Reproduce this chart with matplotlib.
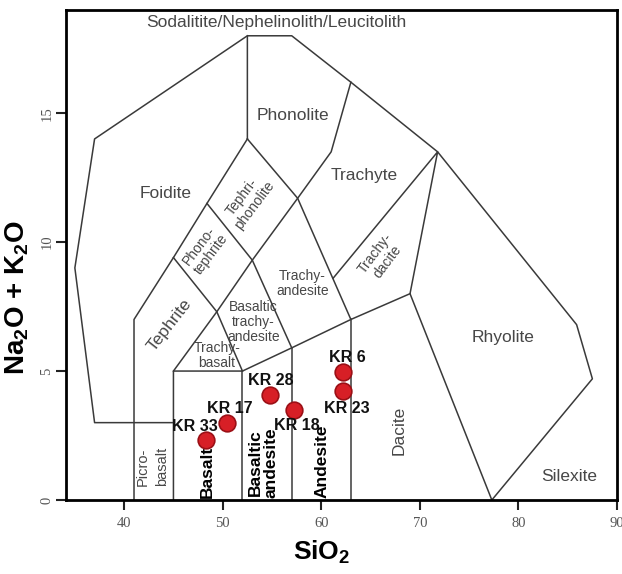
import matplotlib
matplotlib.use("Agg")
import matplotlib.pyplot as plt

plt.rcParams['font.family'] = ['Liberation Sans', 'DejaVu Sans']

# samples: SiO2 vs total alkali (wt%)
samples = ["KR 33", "KR 17", "KR 28", "KR 18", "KR 6", "KR 23"]
sio2 = [48.3, 50.4, 54.8, 57.2, 62.2, 62.2]
alkali = [2.33, 3.0, 4.07, 3.5, 4.96, 4.24]

# TAS field boundaries (SiO2, Na2O+K2O)
outline = [(52.5, 14), (52.5, 18), (57, 18), (63, 16.2), (71.8, 13.5),
           (85.9, 6.8), (87.5, 4.7), (77.3, 0)]
foidite_edge = [(52.5, 18), (37, 14), (35, 9), (37, 3), (45, 3)]
inner_lines = [
    [(41, 0), (41, 7), (45, 9.4), (48.4, 11.5), (52.5, 14)],
    [(45, 0), (45, 5), (52, 5), (57, 5.9), (63, 7), (69, 8)],
    [(52, 0), (52, 5)],
    [(57, 0), (57, 5.9)],
    [(63, 0), (63, 7)],
    [(45, 5), (49.4, 7.3), (53, 9.3), (57.6, 11.7), (61, 13.5), (63, 16.2)],
    [(45, 9.4), (49.4, 7.3), (52, 5)],
    [(48.4, 11.5), (53, 9.3), (57, 5.9)],
    [(52.5, 14), (57.6, 11.7), (63, 7)],
    [(61.2, 8.6), (71.8, 13.5), (69, 8), (77.3, 0)],
]

# field names: text, x, y, rotation
big_names = [
    ("Sodalitite/Nephelinolith/Leucitolith", 55.4, 18.5, 0),
    ("Phonolite", 57.1, 14.9, 0),
    ("Trachyte", 64.3, 12.6, 0),
    ("Foidite", 44.2, 11.9, 0),
    ("Tephrite", 44.6, 6.8, 52),
    ("Rhyolite", 78.4, 6.3, 0),
    ("Dacite", 67.9, 2.7, 90),
    ("Silexite", 85.1, 0.9, 0),
]
small_names = [
    ("Tephri-\nphonolite", 52.6, 11.6, 53),
    ("Phono-\ntephrite", 48.2, 9.7, 53),
    ("Basaltic\ntrachy-\nandesite", 53.1, 6.9, 0),
    ("Trachy-\nbasalt", 49.4, 5.6, 0),
    ("Trachy-\nandesite", 58.1, 8.4, 0),
    ("Trachy-\ndacite", 66.1, 9.4, 53),
]
bold_names = [("Basalt", 48.4), ("Basaltic\nandesite", 54.1), ("Andesite", 60.1)]

# label offsets (pixels) for sample names
label_dx = [-11, 3, 1, 3, 4, 4]
label_dy = [13, 14, 15, -16, 15, -18]

fig = plt.figure(figsize=(6.22, 5.74), dpi=100)
ax = fig.add_axes([0.1061, 0.1289, 0.8859, 0.8537])

line_col = '#3a3a3a'
for seg in [outline, foidite_edge] + inner_lines:
    xs = [p[0] for p in seg]
    ys = [p[1] for p in seg]
    ax.plot(xs, ys, color=line_col, lw=1.1, zorder=2)

txt_col = '#474747'
for t, x, y, r in big_names:
    ax.text(x, y, t, fontsize=12.5, color=txt_col, rotation=r,
            ha='center', va='center', rotation_mode='anchor')
for t, x, y, r in small_names:
    ax.text(x, y, t, fontsize=10, color=txt_col, rotation=r,
            ha='center', va='center', rotation_mode='anchor',
            linespacing=1.1, multialignment='center')
ax.text(42.9, 1.3, "Picro-\nbasalt", fontsize=10.5, color=txt_col, rotation=90,
        ha='center', va='center', rotation_mode='anchor', linespacing=1.5)

bold_font = ['Liberation Sans Narrow', 'DejaVu Sans Condensed',
             'Liberation Sans', 'DejaVu Sans']
for t, x in bold_names:
    ax.text(x, 0.08, t, fontsize=12.5, fontweight='bold', family=bold_font,
            color='black', rotation=90, ha='center', va='bottom',
            linespacing=1.0, zorder=3)

ax.plot(sio2, alkali, 'o', ms=12, mfc='#d71f26', mec='#9b1016',
        mew=1.2, ls='none', zorder=5)
for name, x, y, dx, dy in zip(samples, sio2, alkali, label_dx, label_dy):
    ax.annotate(name, (x, y), xytext=(dx, dy), textcoords='offset pixels',
                ha='center', va='center', fontsize=11.5, fontweight='bold',
                family=bold_font, color='#111111', zorder=6)

ax.set_xlim(34.1, 90)
ax.set_ylim(0, 19)
ax.set_xticks([40, 50, 60, 70, 80, 90])
ax.set_yticks([0, 5, 10, 15])
for s in ax.spines.values():
    s.set_linewidth(2)
ax.tick_params(direction='out', length=7, width=1.5, colors='#222222',
               labelcolor='#555555', labelsize=10.5, pad=5)
ax.tick_params(axis='y', pad=2)
for lbl in ax.get_xticklabels() + ax.get_yticklabels():
    lbl.set_family(['Liberation Serif', 'DejaVu Serif'])
for lbl in ax.get_yticklabels():
    lbl.set_rotation(90)
    lbl.set_va('center')

ax.set_xlabel(r'SiO$\mathregular{_2}$', fontsize=19, fontweight='bold',
              family=bold_font)
ax.set_ylabel(r'Na$\mathregular{_2}$O + K$\mathregular{_2}$O', fontsize=20,
              fontweight='bold', family=bold_font)
ax.xaxis.set_label_coords(0.463, -0.08)
ax.yaxis.set_label_coords(-0.064, 0.414)

fig.savefig('out.png', dpi=100)
